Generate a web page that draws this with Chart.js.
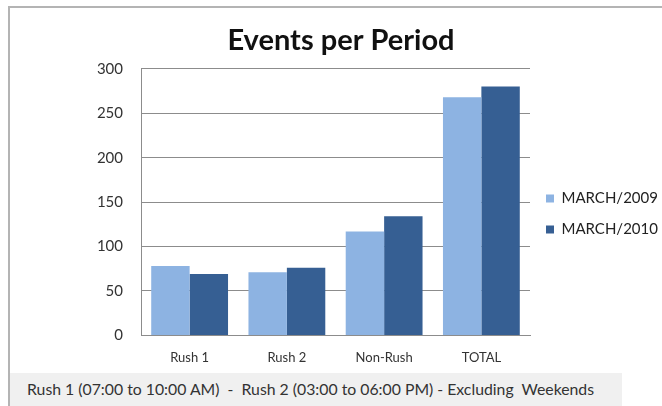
<!DOCTYPE html>
<html>
<head>
<meta charset="utf-8">
<script src="https://cdn.jsdelivr.net/npm/chart.js@4"></script>
<style>
  html, body { margin: 0; padding: 0; background: #ffffff; width: 662px; height: 406px; overflow: hidden; }
  #frame { position: absolute; left: 8px; top: 6px; width: 700px; height: 420px; border-left: 2px solid #b4b4b4; border-top: 2px solid #b4b4b4; }
  #wrap { position: absolute; left: 10px; top: 8px; width: 652px; height: 373px; }
  #footer { position: absolute; left: 10px; top: 373px; width: 612px; height: 33px; background: #f0f0f0;
            font-family: Lato, "Open Sans", sans-serif; font-size: 15.8px; color: #333; line-height: 32px; padding-left: 17px; box-sizing: border-box; white-space: pre; }
</style>
</head>
<body>
<div id="frame"></div>
<div id="wrap"><canvas id="c"></canvas></div>
<div id="footer">Rush 1 (07:00 to 10:00 AM)  -  Rush 2 (03:00 to 06:00 PM) - Excluding  Weekends</div>
<script>
const categories = ["Rush 1", "Rush 2", "Non-Rush", "TOTAL"];
const seriesNames = ["MARCH/2009", "MARCH/2010"];
const march2009 = [78, 71, 117, 268];
const march2010 = [69, 76, 134, 280];
const yTicks = [0, 50, 100, 150, 200, 250, 300];

const font = "Lato, 'Open Sans', sans-serif";

const legendTweak = {
  id: 'legendTweak',
  beforeLayout(chart) {
    const lg = chart.legend;
    if (lg && !lg._patched) {
      const orig = lg.fit;
      lg.fit = function () { orig.call(this); this.width = 132; };
      lg._patched = true;
    }
  },
  afterLayout(chart) {
    const lg = chart.legend;
    if (lg) { lg.top += 12; lg.bottom += 12; }
  }
};

new Chart(document.getElementById('c'), {
  type: 'bar',
  data: {
    labels: categories,
    datasets: [
      { label: seriesNames[0], data: march2009, backgroundColor: '#8db3e2', borderWidth: 0 },
      { label: seriesNames[1], data: march2010, backgroundColor: '#365f93', borderWidth: 0 }
    ]
  },
  plugins: [legendTweak],
  options: {
    responsive: true,
    maintainAspectRatio: false,
    animation: false,
    layout: { padding: { left: 10, right: 0, top: 15, bottom: 0 } },
    datasets: { bar: { categoryPercentage: 0.79, barPercentage: 1.0 } },
    plugins: {
      title: {
        display: true, text: 'Events per Period', color: '#111',
        font: { family: font, size: 29, weight: 'bold' },
        padding: { top: 0, bottom: 11 }
      },
      legend: {
        position: 'right',
        labels: {
          color: '#222', font: { family: font, size: 15 },
          boxWidth: 8, boxHeight: 8, padding: 16
        }
      },
      tooltip: { enabled: false }
    },
    scales: {
      x: {
        grid: { display: false, drawTicks: false },
        border: { display: true, color: '#8c8c8c', width: 1 },
        ticks: { color: '#333', font: { family: font, size: 13 }, padding: 15 }
      },
      y: {
        min: 0, max: 300,
        afterBuildTicks: (axis) => { axis.ticks = yTicks.map(v => ({ value: v })); },
        afterFit: (axis) => { axis.width = 121; },
        grid: { color: '#8c8c8c', drawTicks: false, lineWidth: 1 },
        border: { display: true, color: '#8c8c8c', width: 1 },
        ticks: { color: '#333', font: { family: font, size: 15 }, padding: 18 }
      }
    }
  }
});
</script>
</body>
</html>
